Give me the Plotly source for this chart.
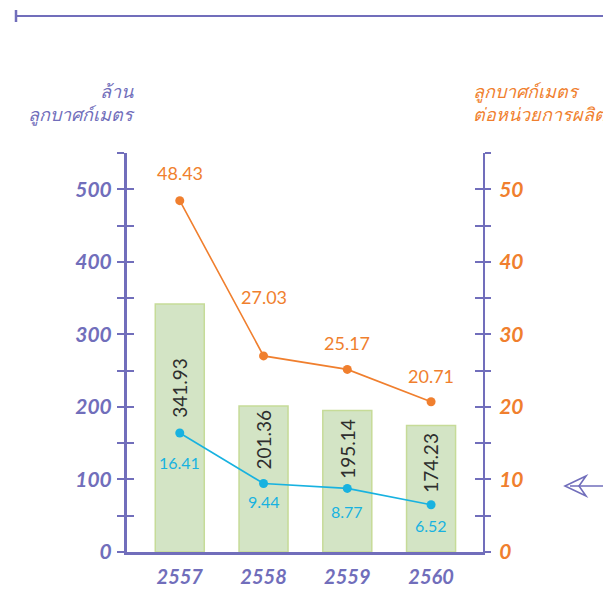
import plotly.graph_objects as go

# ---- data ----
years = ["2557", "2558", "2559", "2560"]
water_total = [341.93, 201.36, 195.14, 174.23]          # ล้าน ลูกบาศก์เมตร (bars, left axis)
water_per_unit = [48.43, 27.03, 25.17, 20.71]           # orange line (right axis)
water_per_unit2 = [16.41, 9.44, 8.77, 6.52]             # cyan line (right axis)
left_ticks = [0, 50, 100, 150, 200, 250, 300, 350, 400, 450, 500, 550]
left_ticktext = ["0", "", "100", "", "200", "", "300", "", "400", "", "500", ""]
right_ticks = [0, 5, 10, 15, 20, 25, 30, 35, 40, 45, 50, 55]
right_ticktext = ["0", "", "10", "", "20", "", "30", "", "40", "", "50", ""]

# ---- label offsets (pixels, styling only) ----
bar_label_dy = [-84, -34, -38, -37]
orange_label_dy = [28, 59, 26, 26]
cyan_label_dy = [-30, -18, -23, -21]

# page is 611x590; the html body has an 8px margin, so the figure is drawn 8px in
OFF = 8
W, H = 611 - OFF, 590 - OFF
PL, PR, PT, PB = 127, 483, 153, 552   # plot area in page pixels
ML, MT = PL - OFF, PT - OFF
MR, MB = W - (PR - OFF), H - (PB - OFF)
PW, PH = PR - PL, PB - PT

def px(x):
    return (x - PL) / PW

def py(y):
    return (PB - y) / PH

PURPLE = "#716ebb"
ORANGE = "#f07f2e"
CYAN = "#18b2e0"
BAR_FILL = "#d3e4c5"
BAR_LINE = "#c6db98"

fig = go.Figure()
fig.add_trace(go.Bar(
    x=years, y=water_total, width=0.585,
    marker=dict(color=BAR_FILL, line=dict(color=BAR_LINE, width=1.5)),
    hoverinfo="skip", showlegend=False,
))
fig.add_trace(go.Scatter(
    x=years, y=water_per_unit, yaxis="y2", mode="lines+markers",
    line=dict(color=ORANGE, width=1.6), marker=dict(color=ORANGE, size=9),
    showlegend=False,
))
fig.add_trace(go.Scatter(
    x=years, y=water_per_unit2, yaxis="y2", mode="lines+markers",
    line=dict(color=CYAN, width=1.6), marker=dict(color=CYAN, size=9),
    showlegend=False,
))
# empty traces so the overlay tick axes are drawn
fig.add_trace(go.Scatter(x=[], y=[], yaxis="y3", showlegend=False, hoverinfo="skip"))
fig.add_trace(go.Scatter(x=[], y=[], yaxis="y4", showlegend=False, hoverinfo="skip"))

annotations = []
for i, yr in enumerate(years):
    annotations.append(dict(
        x=i, y=water_total[i], xref="x", yref="y", text=f"{water_total[i]:.2f}",
        textangle=-90, showarrow=False, yshift=bar_label_dy[i],
        xanchor="center", yanchor="middle",
        font=dict(family="Lato, Open Sans, sans-serif", size=19, color="#2e2e2e"),
    ))
    annotations.append(dict(
        x=i, y=water_per_unit[i], xref="x", yref="y2", text=f"{water_per_unit[i]:.2f}",
        showarrow=False, yshift=orange_label_dy[i], xanchor="center", yanchor="middle",
        font=dict(family="Lato, Open Sans, sans-serif", size=18, color=ORANGE),
    ))
    annotations.append(dict(
        x=i, y=water_per_unit2[i], xref="x", yref="y2", text=f"{water_per_unit2[i]:.2f}",
        showarrow=False, yshift=cyan_label_dy[i], xanchor="center", yanchor="middle",
        font=dict(family="Lato, Open Sans, sans-serif", size=16, color=CYAN),
    ))

# axis titles
annotations.append(dict(
    x=px(137), y=py(103), xref="paper", yref="paper", text="ล้าน<br>ลูกบาศก์เมตร",
    showarrow=False, xanchor="right", yanchor="middle", align="right",
    font=dict(family="Noto Sans, sans-serif", size=18, color=PURPLE, style="italic"),
))
annotations.append(dict(
    x=px(471), y=py(103), xref="paper", yref="paper", text="ลูกบาศก์เมตร<br>ต่อหน่วยการผลิต",
    showarrow=False, xanchor="left", yanchor="middle", align="left",
    font=dict(family="Noto Sans, sans-serif", size=18, color=ORANGE, style="italic"),
))

shapes = [
    # top rule
    dict(type="line", xref="paper", yref="paper", x0=px(16), x1=px(611), y0=py(16), y1=py(16),
         line=dict(color=PURPLE, width=2)),
    dict(type="line", xref="paper", yref="paper", x0=px(16), x1=px(16), y0=py(10), y1=py(22),
         line=dict(color=PURPLE, width=2.5)),
    # right arrow
    dict(type="path", xref="paper", yref="paper",
         path=f"M {px(586)},{py(476)} L {px(565)},{py(486)} L {px(586)},{py(496)} L {px(579)},{py(486)} Z",
         line=dict(color=PURPLE, width=1.6), fillcolor="rgba(0,0,0,0)"),
    dict(type="line", xref="paper", yref="paper", x0=px(570), x1=px(611), y0=py(486), y1=py(486),
         line=dict(color=PURPLE, width=1.6)),
]

tick_font = dict(family="Lato, DejaVu Sans, sans-serif", size=21, color=PURPLE, style="italic", weight="bold")

fig.update_layout(
    width=W, height=H,
    margin=dict(l=ML, r=MR, t=MT, b=MB, pad=0, autoexpand=False),
    plot_bgcolor="white", paper_bgcolor="white",
    showlegend=False,
    xaxis=dict(
        type="category", range=[-0.63, 3.62], showgrid=False, zeroline=False, automargin=False,
        showline=True, linecolor=PURPLE, linewidth=3, ticks="",
        tickfont=dict(family="Lato, DejaVu Sans, sans-serif", size=20, color=PURPLE,
                      style="italic", weight="bold"),
        ticklabelstandoff=5,
    ),
    yaxis=dict(
        range=[0, 550], showgrid=False, zeroline=False, automargin=False,
        showline=True, linecolor=PURPLE, linewidth=3,
        tickvals=left_ticks, ticktext=left_ticktext,
        ticks="outside", ticklen=7, tickwidth=2, tickcolor=PURPLE,
        tickfont=tick_font, ticklabelstandoff=1,
    ),
    yaxis2=dict(
        range=[0, 55], overlaying="y", side="right", anchor="x", automargin=False,
        showgrid=False, zeroline=False,
        showline=True, linecolor=PURPLE, linewidth=2,
        tickvals=right_ticks, ticktext=right_ticktext,
        ticks="outside", ticklen=6, tickwidth=2, tickcolor=PURPLE,
        tickfont=dict(family="Lato, DejaVu Sans, sans-serif", size=21, color=ORANGE,
                      style="italic", weight="bold"),
        ticklabelstandoff=4,
    ),
    yaxis3=dict(
        range=[0, 550], overlaying="y", side="left", anchor="x", automargin=False,
        showgrid=False, zeroline=False, showline=False,
        tickvals=left_ticks, ticks="inside", ticklen=7, tickwidth=2, tickcolor=PURPLE,
        showticklabels=False,
    ),
    yaxis4=dict(
        range=[0, 55], overlaying="y", side="right", anchor="x", automargin=False,
        showgrid=False, zeroline=False, showline=False,
        tickvals=right_ticks, ticks="inside", ticklen=8, tickwidth=2, tickcolor=PURPLE,
        showticklabels=False,
    ),
    annotations=annotations,
    shapes=shapes,
)

fig.write_html("out.html")
